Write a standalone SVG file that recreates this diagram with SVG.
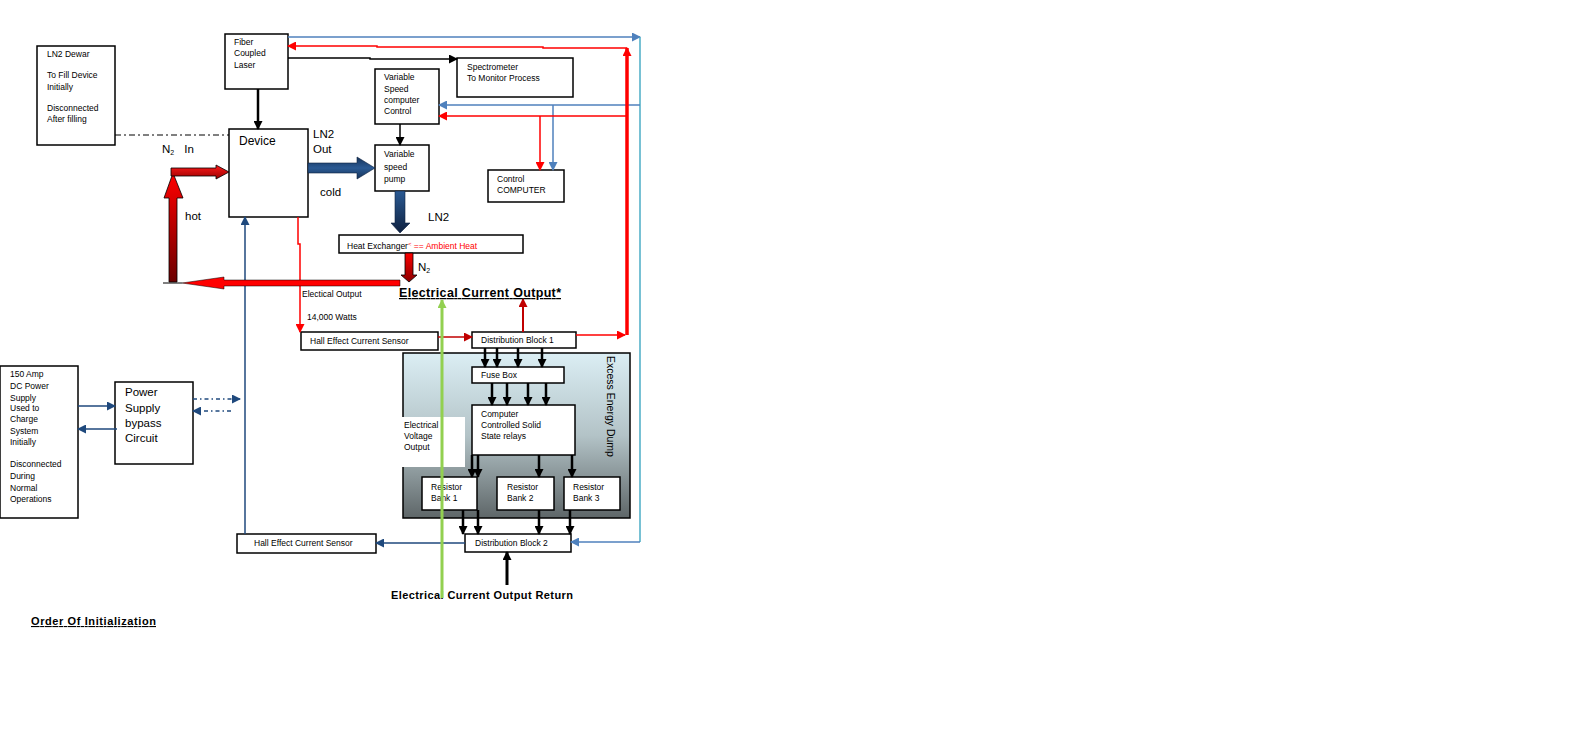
<svg xmlns="http://www.w3.org/2000/svg" width="1594" height="748" viewBox="0 0 1594 748">
<defs>
<style>
text{font-family:"Liberation Sans",Arial,sans-serif;fill:#000}
.s{font-size:8.5px}
.m{font-size:11.5px}
.b{font-weight:bold;text-decoration:underline}
.box{fill:#fff;stroke:#000;stroke-width:1.5}
.k{stroke:#000;fill:none}
.r{stroke:#ff0000;fill:none}
.dr{stroke:#c00000;fill:none}
.nv{stroke:#1f497d;fill:none}
.bl{stroke:#4f81bd;fill:none}
.tl{stroke:#4bacc6;fill:none}
</style>
<marker id="ak" markerUnits="userSpaceOnUse" markerWidth="9" markerHeight="9" refX="8" refY="4.5" orient="auto"><path d="M0,0L9,4.5L0,9z" fill="#000"/></marker>
<marker id="ar" markerUnits="userSpaceOnUse" markerWidth="9" markerHeight="9" refX="8" refY="4.5" orient="auto"><path d="M0,0L9,4.5L0,9z" fill="#ff0000"/></marker>
<marker id="adr" markerUnits="userSpaceOnUse" markerWidth="9" markerHeight="9" refX="8" refY="4.5" orient="auto"><path d="M0,0L9,4.5L0,9z" fill="#c00000"/></marker>
<marker id="anv" markerUnits="userSpaceOnUse" markerWidth="9" markerHeight="9" refX="8" refY="4.5" orient="auto"><path d="M0,0L9,4.5L0,9z" fill="#1f497d"/></marker>
<marker id="abl" markerUnits="userSpaceOnUse" markerWidth="9" markerHeight="9" refX="8" refY="4.5" orient="auto"><path d="M0,0L9,4.5L0,9z" fill="#4f81bd"/></marker>
<marker id="agr" markerUnits="userSpaceOnUse" markerWidth="9" markerHeight="9" refX="8" refY="4.5" orient="auto"><path d="M0,0L9,4.5L0,9z" fill="#92d050"/></marker>
<linearGradient id="gDump" x1="0" y1="0" x2="0" y2="1"><stop offset="0" stop-color="#dbeef4"/><stop offset="0.5" stop-color="#b3c3c7"/><stop offset="1" stop-color="#5e6668"/></linearGradient>
<linearGradient id="gRedUp" x1="0" y1="1" x2="0" y2="0"><stop offset="0" stop-color="#6b0000"/><stop offset="1" stop-color="#ff0000"/></linearGradient>
<linearGradient id="gRedH" x1="0" y1="0" x2="0" y2="1"><stop offset="0" stop-color="#ff1a1a"/><stop offset="1" stop-color="#9a0000"/></linearGradient>
<linearGradient id="gRedDn" x1="0" y1="0" x2="0" y2="1"><stop offset="0" stop-color="#ff0000"/><stop offset="1" stop-color="#8a0000"/></linearGradient>
<linearGradient id="gNvH" x1="0" y1="0" x2="0" y2="1"><stop offset="0" stop-color="#16335a"/><stop offset="0.5" stop-color="#2b5a93"/><stop offset="1" stop-color="#16335a"/></linearGradient>
<linearGradient id="gNvV" x1="0" y1="0" x2="0" y2="1"><stop offset="0" stop-color="#2b5a93"/><stop offset="1" stop-color="#0f2140"/></linearGradient>
</defs>
<rect width="1594" height="748" fill="#fff"/>

<g id="excess-energy-dump">
<rect x="403" y="353" width="227" height="165" fill="url(#gDump)" stroke="#000" stroke-width="1.5"/>
<text class="m" transform="translate(607,356) rotate(90)" style="font-size:10.5px">Excess Energy Dump</text>
</g>

<g id="ln2-dewar">
<rect class="box" x="37" y="46" width="78" height="99"/>
<text class="s" x="47" y="57">LN2 Dewar</text>
<text class="s" x="47" y="78">To Fill Device</text>
<text class="s" x="47" y="90">Initially</text>
<text class="s" x="47" y="111">Disconnected</text>
<text class="s" x="47" y="122">After filling</text>
</g>

<g id="fiber-laser">
<rect class="box" x="225" y="34" width="63" height="55"/>
<text class="s" x="234" y="45">Fiber</text>
<text class="s" x="234" y="56">Coupled</text>
<text class="s" x="234" y="68">Laser</text>
</g>

<g id="device">
<rect class="box" x="229" y="129" width="79" height="88"/>
<text class="m" x="239" y="145" style="font-size:12px">Device</text>
</g>

<g id="spectrometer">
<rect class="box" x="457" y="58" width="116" height="39"/>
<text class="s" x="467" y="70">Spectrometer</text>
<text class="s" x="467" y="81">To Monitor Process</text>
</g>

<g id="vscc">
<rect class="box" x="375" y="69" width="64" height="55"/>
<text class="s" x="384" y="80">Variable</text>
<text class="s" x="384" y="92">Speed</text>
<text class="s" x="384" y="103">computer</text>
<text class="s" x="384" y="114">Control</text>
</g>

<g id="pump">
<rect class="box" x="375" y="145" width="54" height="46"/>
<text class="s" x="384" y="157">Variable</text>
<text class="s" x="384" y="170">speed</text>
<text class="s" x="384" y="182">pump</text>
</g>

<g id="control-computer">
<rect class="box" x="488" y="170" width="76" height="32"/>
<text class="s" x="497" y="182">Control</text>
<text class="s" x="497" y="193">COMPUTER</text>
</g>

<g id="heat-exchanger">
<rect class="box" x="339" y="235" width="184" height="18"/>
<text class="s" x="347" y="249">Heat Exchanger<tspan fill="#ff0000" font-size="6" dy="-3">&lt;</tspan><tspan fill="#ff0000" dy="3"> == Ambient Heat</tspan></text>
</g>

<g id="hall-sensor-top">
<rect class="box" x="301" y="332" width="137" height="18"/>
<text class="s" x="310" y="344">Hall Effect Current Sensor</text>
</g>

<g id="distribution-block-1">
<rect class="box" x="472" y="332" width="104" height="16"/>
<text class="s" x="481" y="343">Distribution Block 1</text>
</g>

<g id="fuse-box">
<rect class="box" x="472" y="367" width="92" height="16"/>
<text class="s" x="481" y="378">Fuse Box</text>
</g>

<g id="relays">
<rect class="box" x="472" y="405" width="103" height="50"/>
<text class="s" x="481" y="417">Computer</text>
<text class="s" x="481" y="428">Controlled Solid</text>
<text class="s" x="481" y="439">State relays</text>
</g>

<g id="voltage-output">
<rect x="399" y="417" width="66" height="50" fill="#fff"/>
<text class="s" x="404" y="428">Electrical</text>
<text class="s" x="404" y="439">Voltage</text>
<text class="s" x="404" y="450">Output</text>
</g>

<g id="resistor-bank-1">
<rect class="box" x="422" y="477" width="55" height="33"/>
<text class="s" x="431" y="490">Resistor</text>
<text class="s" x="431" y="501">Bank 1</text>
</g>
<g id="resistor-bank-2">
<rect class="box" x="497" y="477" width="57" height="33"/>
<text class="s" x="507" y="490">Resistor</text>
<text class="s" x="507" y="501">Bank 2</text>
</g>
<g id="resistor-bank-3">
<rect class="box" x="564" y="477" width="56" height="33"/>
<text class="s" x="573" y="490">Resistor</text>
<text class="s" x="573" y="501">Bank 3</text>
</g>

<g id="distribution-block-2">
<rect class="box" x="465" y="534" width="106" height="18"/>
<text class="s" x="475" y="546">Distribution Block 2</text>
</g>

<g id="hall-sensor-bottom">
<rect class="box" x="237" y="534" width="139" height="19"/>
<text class="s" x="254" y="546">Hall Effect Current Sensor</text>
</g>

<g id="power-bypass">
<rect class="box" x="115" y="382" width="78" height="82"/>
<text class="m" x="125" y="396">Power</text>
<text class="m" x="125" y="412">Supply</text>
<text class="m" x="125" y="427">bypass</text>
<text class="m" x="125" y="442">Circuit</text>
</g>

<g id="dc-supply">
<rect class="box" x="0" y="366" width="78" height="152"/>
<text class="s" x="10" y="377">150 Amp</text>
<text class="s" x="10" y="389">DC Power</text>
<text class="s" x="10" y="401">Supply</text>
<text class="s" x="10" y="411">Used to</text>
<text class="s" x="10" y="422">Charge</text>
<text class="s" x="10" y="434">System</text>
<text class="s" x="10" y="445">Initially</text>
<text class="s" x="10" y="467">Disconnected</text>
<text class="s" x="10" y="479">During</text>
<text class="s" x="10" y="491">Normal</text>
<text class="s" x="10" y="502">Operations</text>
</g>

<g id="connectors">
<!-- dashed dewar line -->
<line x1="115" y1="135" x2="229" y2="135" stroke="#000" stroke-width="1" stroke-dasharray="6,3,2,3"/>
<!-- laser to device -->
<line class="k" x1="258" y1="89" x2="258" y2="129" stroke-width="2.5" marker-end="url(#ak)"/>
<!-- laser to spectrometer -->
<polyline class="k" points="288,58 370,58 370,59 457,59" stroke-width="1.5" marker-end="url(#ak)"/>
<!-- vscc to pump -->
<line class="k" x1="400" y1="124" x2="400" y2="145" stroke-width="1.5" marker-end="url(#ak)"/>
<!-- blue top line -->
<line class="bl" x1="288" y1="37" x2="640" y2="37" stroke-width="1.5" marker-end="url(#abl)"/>
<line class="tl" x1="640" y1="37" x2="640" y2="542" stroke-width="1.5"/>
<line class="bl" x1="640" y1="542" x2="571" y2="542" stroke-width="1.5" marker-end="url(#abl)"/>
<!-- blue to vscc and control computer -->
<line class="bl" x1="640" y1="105" x2="439" y2="105" stroke-width="1.5" marker-end="url(#abl)"/>
<line class="bl" x1="553" y1="105" x2="553" y2="170" stroke-width="1.5" marker-end="url(#abl)"/>
<!-- red feedback -->
<line class="r" x1="576" y1="335" x2="625" y2="335" stroke-width="1.5" marker-end="url(#ar)"/>
<line class="r" x1="627" y1="335" x2="627" y2="48" stroke-width="3.5" marker-end="url(#ar)"/>
<polyline class="r" points="627,48 543,48 543,47 377,47 377,46 288,46" stroke-width="1.5" marker-end="url(#ar)"/>
<line class="r" x1="627" y1="116" x2="439" y2="116" stroke-width="1.5" marker-end="url(#ar)"/>
<line class="r" x1="540" y1="116" x2="540" y2="170" stroke-width="1.5" marker-end="url(#ar)"/>
<!-- device electrical output -->
<polyline class="r" points="298,217 298,244 300,244 300,332" stroke-width="1.5" marker-end="url(#ar)"/>
<!-- hall top to DB1 -->
<line class="dr" x1="438" y1="337" x2="472" y2="337" stroke-width="1.5" marker-end="url(#adr)"/>
<!-- DB1 up -->
<line class="dr" x1="523" y1="332" x2="523" y2="299" stroke-width="2" marker-end="url(#adr)"/>
<!-- DB1 to fuse box -->
<g class="k" stroke-width="2.5">
<line x1="485" y1="348" x2="485" y2="367" marker-end="url(#ak)"/>
<line x1="497" y1="348" x2="497" y2="367" marker-end="url(#ak)"/>
<line x1="518" y1="348" x2="518" y2="367" marker-end="url(#ak)"/>
<line x1="542" y1="348" x2="542" y2="367" marker-end="url(#ak)"/>
<!-- fuse to relays -->
<line x1="492" y1="383" x2="492" y2="405" marker-end="url(#ak)"/>
<line x1="507" y1="383" x2="507" y2="405" marker-end="url(#ak)"/>
<line x1="528" y1="383" x2="528" y2="405" marker-end="url(#ak)"/>
<line x1="546" y1="383" x2="546" y2="405" marker-end="url(#ak)"/>
<!-- relays to banks -->
<line x1="472" y1="455" x2="472" y2="477" marker-end="url(#ak)"/>
<line x1="478" y1="455" x2="478" y2="477" marker-end="url(#ak)"/>
<line x1="539" y1="455" x2="539" y2="477" marker-end="url(#ak)"/>
<line x1="572" y1="455" x2="572" y2="477" marker-end="url(#ak)"/>
<!-- banks to DB2 -->
<line x1="463" y1="510" x2="463" y2="534" marker-end="url(#ak)"/>
<line x1="478" y1="510" x2="478" y2="534" marker-end="url(#ak)"/>
<line x1="539" y1="510" x2="539" y2="534" marker-end="url(#ak)"/>
<line x1="570" y1="510" x2="570" y2="534" marker-end="url(#ak)"/>
<!-- return -->
<line x1="507" y1="585" x2="507" y2="552" stroke-width="3" marker-end="url(#ak)"/>
</g>
<!-- DB2 to hall bottom -->
<line class="nv" x1="465" y1="543" x2="376" y2="543" stroke-width="1.5" marker-end="url(#anv)"/>
<!-- hall bottom to device -->
<line class="nv" x1="245" y1="534" x2="245" y2="217" stroke-width="1.5" marker-end="url(#anv)"/>
<!-- dc supply / bypass -->
<line class="nv" x1="78" y1="406" x2="115" y2="406" stroke-width="1.5" marker-end="url(#anv)"/>
<line class="nv" x1="117" y1="429" x2="78" y2="429" stroke-width="1.5" marker-end="url(#anv)"/>
<line class="nv" x1="193" y1="399" x2="240" y2="399" stroke-width="1.5" stroke-dasharray="4,3,1.5,3" marker-end="url(#anv)"/>
<line class="nv" x1="231" y1="411" x2="193" y2="411" stroke-width="1.5" stroke-dasharray="4,3,1.5,3" marker-end="url(#anv)"/>
<!-- fat red arrows -->
<polygon points="400,280 224,280 224,277 182,283 224,289 224,286 400,286" fill="#ff0000" stroke="#000" stroke-width="0.5"/>
<line x1="163" y1="283" x2="182" y2="283" stroke="#000" stroke-width="1"/>
<polygon points="169,282 169,198 164,198 173,173 183,198 177,198 177,282" fill="url(#gRedUp)" stroke="#000" stroke-width="0.8"/>
<polygon points="171,168 216,168 216,165 229,172 216,179 216,176 171,176" fill="url(#gRedH)" stroke="#000" stroke-width="0.8"/>
<polygon points="405,253 413,253 413,275 417,275 409,282 401,275 405,275" fill="url(#gRedDn)" stroke="#000" stroke-width="0.8"/>
<!-- fat navy arrows -->
<polygon points="308,163 357,163 357,157 375,168 357,179 357,173 308,173" fill="url(#gNvH)" stroke="#0f2140" stroke-width="0.6"/>
<polygon points="395,191 405,191 405,223 410,223 400,233 391,223 395,223" fill="url(#gNvV)" stroke="#0f2140" stroke-width="0.6"/>
</g>

<g id="labels">
<text class="m" x="313" y="138">LN2</text>
<text class="m" x="313" y="153">Out</text>
<text class="m" x="320" y="196">cold</text>
<text class="m" x="185" y="220">hot</text>
<text class="m" x="428" y="221">LN2</text>
<text class="m" x="162" y="153">N<tspan font-size="7" dy="2">2</tspan><tspan dx="10" dy="-2">In</tspan></text>
<text class="m" x="418" y="271">N<tspan font-size="7" dy="2">2</tspan></text>
<text class="s" x="302" y="297">Electical Output</text>
<text class="s" x="307" y="320">14,000 Watts</text>
<text class="m b" x="399" y="297" style="font-size:12.5px" textLength="162" lengthAdjust="spacing">Electrical Current Output*</text>
<text class="m b" x="391" y="599" style="font-size:11px;text-decoration:none" textLength="182" lengthAdjust="spacing">Electrical Current Output Return</text>
<text class="m b" x="31" y="625" style="font-size:11px" textLength="125" lengthAdjust="spacing">Order Of Initialization</text>
</g>

<g id="green-connector">
<line x1="442" y1="598" x2="442" y2="300" stroke="#92d050" stroke-width="3" marker-end="url(#agr)"/>
</g>
</svg>
